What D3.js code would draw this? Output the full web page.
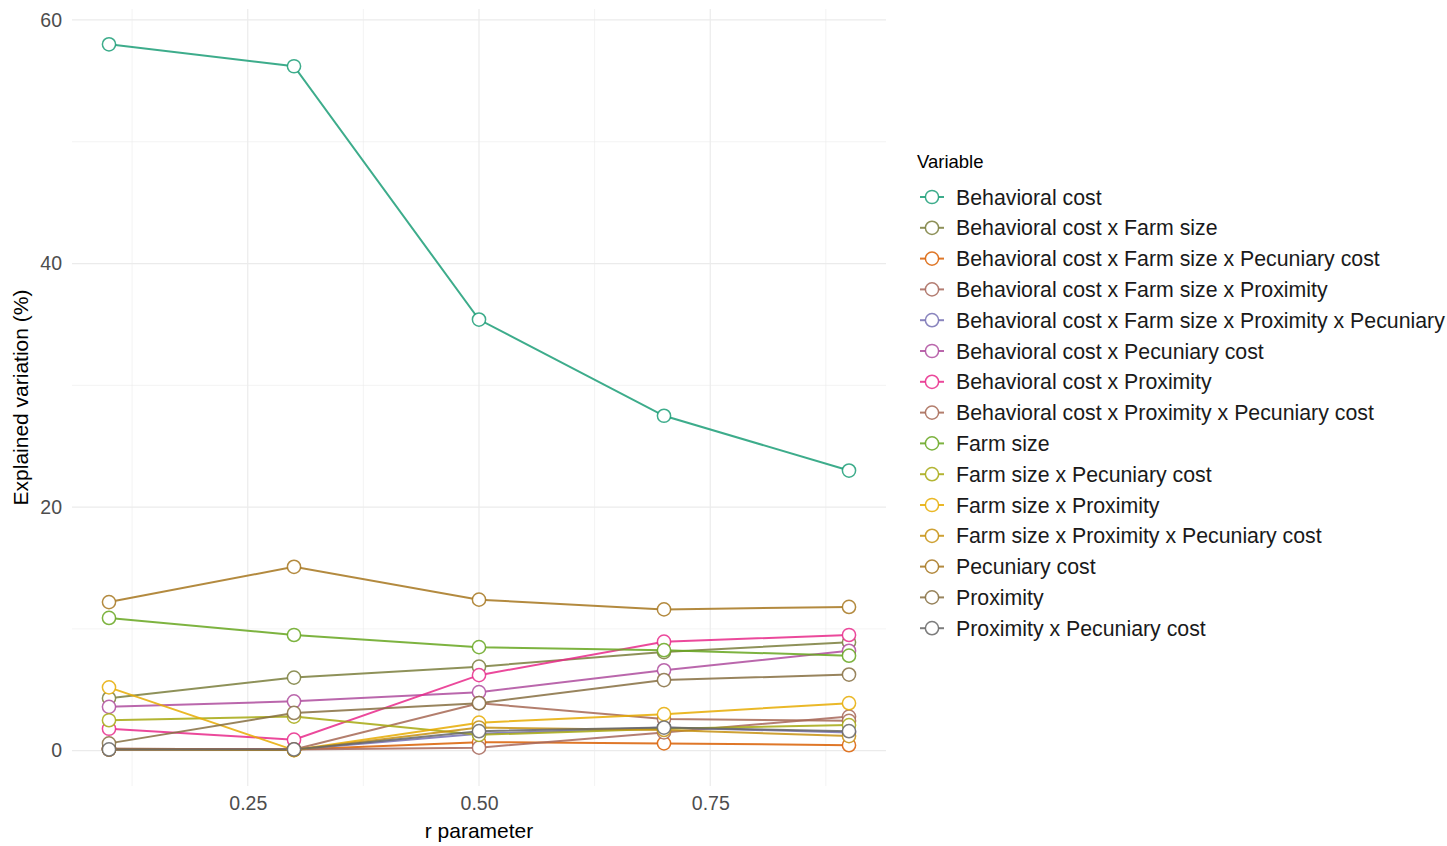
<!DOCTYPE html>
<html>
<head>
<meta charset="utf-8">
<script src="https://cdn.jsdelivr.net/npm/d3@7"></script>
<style>
  html, body { margin: 0; padding: 0; background: #ffffff; }
  svg { display: block; font-family: "Liberation Sans", Arial, sans-serif; }
</style>
</head>
<body>
<svg id="chart" width="1447" height="846"></svg>
<script>
// ---- data ----
const rValues = [0.1, 0.3, 0.5, 0.7, 0.9];
const xTicks = [0.25, 0.5, 0.75];
const xTickLabels = ["0.25", "0.50", "0.75"];
const yTicks = [0, 20, 40, 60];
const yTickLabels = ["0", "20", "40", "60"];

const variables = [
  "Behavioral cost",
  "Behavioral cost x Farm size",
  "Behavioral cost x Farm size x Pecuniary cost",
  "Behavioral cost x Farm size x Proximity",
  "Behavioral cost x Farm size x Proximity x Pecuniary",
  "Behavioral cost x Pecuniary cost",
  "Behavioral cost x Proximity",
  "Behavioral cost x Proximity x Pecuniary cost",
  "Farm size",
  "Farm size x Pecuniary cost",
  "Farm size x Proximity",
  "Farm size x Proximity x Pecuniary cost",
  "Pecuniary cost",
  "Proximity",
  "Proximity x Pecuniary cost"
];

const behavioralCost          = [58.0, 56.2, 35.4, 27.5, 23.0];
const behavFarm               = [4.3, 6.0, 6.9, 8.1, 8.9];
const behavFarmPec            = [0.1, 0.1, 0.7, 0.6, 0.45];
const behavFarmProx           = [0.15, 0.1, 0.25, 1.5, 2.8];
const behavFarmProxPec        = [0.1, 0.1, 1.4, 1.9, 1.5];
const behavPec                = [3.6, 4.05, 4.8, 6.6, 8.2];
const behavProx               = [1.8, 0.9, 6.2, 8.95, 9.5];
const behavProxPec            = [0.15, 0.1, 3.9, 2.6, 2.45];
const farmSize                = [10.9, 9.5, 8.5, 8.25, 7.8];
const farmPec                 = [2.5, 2.8, 1.3, 1.8, 2.1];
const farmProx                = [5.2, 0.05, 2.3, 3.0, 3.9];
const farmProxPec             = [0.1, 0.05, 1.9, 1.7, 1.2];
const pecuniaryCost           = [12.2, 15.1, 12.4, 11.6, 11.8];
const proximity               = [0.6, 3.1, 3.9, 5.8, 6.25];
const proxPec                 = [0.1, 0.1, 1.6, 1.9, 1.6];

const seriesValues = [behavioralCost, behavFarm, behavFarmPec, behavFarmProx, behavFarmProxPec,
  behavPec, behavProx, behavProxPec, farmSize, farmPec, farmProx, farmProxPec,
  pecuniaryCost, proximity, proxPec];

const palette = ["#1B9E77", "#7A7E3C", "#D95F02", "#A7675A", "#7570B3", "#AE4C9E", "#E7298A",
  "#A66754", "#66A61E", "#A6A810", "#E6AB02", "#C69010", "#A6761D", "#866E41", "#666666"];

// ---- layout ----
const svg = d3.select("#chart");
const panel = { left: 72, right: 886, top: 9, bottom: 786 };

const x = d3.scaleLinear().domain([0.06, 0.94]).range([panel.left, panel.right]);
const y = d3.scaleLinear().domain([-2.9, 60.9]).range([panel.bottom, panel.top]);

const grid = svg.append("g");
// minor grid
const xMinor = [0.125, 0.375, 0.625, 0.875];
const yMinor = [10, 30, 50];
grid.selectAll(".xminor").data(xMinor).enter().append("line")
  .attr("x1", d => x(d)).attr("x2", d => x(d))
  .attr("y1", panel.top).attr("y2", panel.bottom)
  .attr("stroke", "#EBEBEB").attr("stroke-width", 0.6);
grid.selectAll(".yminor").data(yMinor).enter().append("line")
  .attr("y1", d => y(d)).attr("y2", d => y(d))
  .attr("x1", panel.left).attr("x2", panel.right)
  .attr("stroke", "#EBEBEB").attr("stroke-width", 0.6);
// major grid
grid.selectAll(".xmajor").data(xTicks).enter().append("line")
  .attr("x1", d => x(d)).attr("x2", d => x(d))
  .attr("y1", panel.top).attr("y2", panel.bottom)
  .attr("stroke", "#EBEBEB").attr("stroke-width", 1.2);
grid.selectAll(".ymajor").data(yTicks).enter().append("line")
  .attr("y1", d => y(d)).attr("y2", d => y(d))
  .attr("x1", panel.left).attr("x2", panel.right)
  .attr("stroke", "#EBEBEB").attr("stroke-width", 1.2);

// axes via d3 axis generators (no domain line, no ticks)
const xAxis = d3.axisBottom(x).tickValues(xTicks).tickFormat((d, i) => xTickLabels[i]).tickSize(0).tickPadding(10);
const yAxis = d3.axisLeft(y).tickValues(yTicks).tickFormat((d, i) => yTickLabels[i]).tickSize(0).tickPadding(10);

const gx = svg.append("g").attr("transform", `translate(0,${panel.bottom})`).call(xAxis);
gx.select(".domain").remove();
gx.selectAll("text").attr("fill", "#4D4D4D").attr("font-size", 19.5).attr("font-family", "Liberation Sans, Arial, sans-serif");

const gy = svg.append("g").attr("transform", `translate(${panel.left},0)`).call(yAxis);
gy.select(".domain").remove();
gy.selectAll("text").attr("fill", "#4D4D4D").attr("font-size", 19.5).attr("font-family", "Liberation Sans, Arial, sans-serif");

// axis titles
svg.append("text").attr("x", (panel.left + panel.right) / 2).attr("y", 838)
  .attr("text-anchor", "middle").attr("font-size", 21).attr("fill", "#000")
  .text("r parameter");
svg.append("text")
  .attr("transform", `translate(28,${(panel.top + panel.bottom) / 2}) rotate(-90)`)
  .attr("text-anchor", "middle").attr("font-size", 21).attr("fill", "#000")
  .text("Explained variation (%)");

// ---- series ----
const series = variables.map((name, i) => ({
  name, color: palette[i],
  points: rValues.map((r, j) => ({ r, v: seriesValues[i][j] }))
}));

const line = d3.line().x(d => x(d.r)).y(d => y(d.v));
const lineOpacity = 0.85;

svg.append("g").selectAll("path").data(series).enter().append("path")
  .attr("d", d => line(d.points))
  .attr("fill", "none")
  .attr("stroke", d => d.color)
  .attr("stroke-opacity", lineOpacity)
  .attr("stroke-width", 2);

const pts = svg.append("g");
series.forEach(s => {
  pts.selectAll(null).data(s.points).enter().append("circle")
    .attr("cx", d => x(d.r)).attr("cy", d => y(d.v))
    .attr("r", 6.6)
    .attr("fill", "#ffffff")
    .attr("stroke", s.color)
    .attr("stroke-opacity", lineOpacity)
    .attr("stroke-width", 1.5);
});

// ---- legend ----
const legend = svg.append("g").attr("transform", "translate(917,0)");
legend.append("text").attr("x", 0).attr("y", 168)
  .attr("font-size", 18.5).attr("fill", "#000").text("Variable");

const itemY = d3.scaleLinear().domain([0, 1]).range([197, 197 + 30.8]);
const items = legend.selectAll(".item").data(series).enter().append("g")
  .attr("transform", (d, i) => `translate(0,${itemY(i)})`);
items.append("line").attr("x1", 3).attr("x2", 27).attr("y1", 0).attr("y2", 0)
  .attr("stroke", d => d.color).attr("stroke-opacity", lineOpacity).attr("stroke-width", 2);
items.append("circle").attr("cx", 15).attr("cy", 0).attr("r", 6.6)
  .attr("fill", "#fff").attr("stroke", d => d.color).attr("stroke-opacity", lineOpacity).attr("stroke-width", 1.5);
items.append("text").attr("x", 39).attr("y", 7.5)
  .attr("font-size", 21.3).attr("fill", "#1a1a1a").text(d => d.name);
</script>
</body>
</html>
